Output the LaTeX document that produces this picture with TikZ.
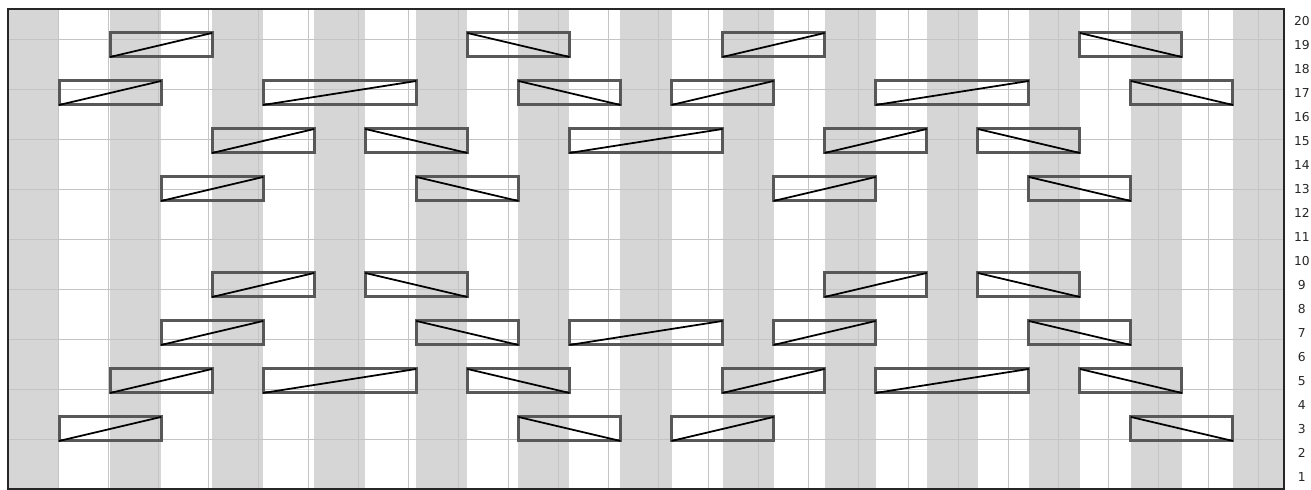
\documentclass[tikz,border=0pt]{standalone}
\usepackage{fontspec}
\setmainfont{DejaVu Sans}
\definecolor{stripe}{RGB}{214,214,214}
\definecolor{gridline}{RGB}{196,196,196}
\definecolor{blockedge}{RGB}{88,88,88}

\begin{document}
\begin{tikzpicture}[x=0.5104cm, y=0.48cm]
    \useasboundingbox (-0.3135,-0.0417) rectangle (51.06,20.375);
    % 1. Dải xám
    \foreach \c in {0,4,...,48} {
        \fill[stripe] (\c,0) rectangle ++(2,20);
    }
    
    % 2. Lưới và khung
    \draw[gridline, line width=0.4pt] (0,0) grid (50,20);
    \draw[line width=0.9pt, black!85] (0,0) rectangle (50,20);
    
    % 3. Số hàng
    \foreach \r in {1,...,20} {
        \node[font=\fontsize{7}{8}\selectfont, text=black!85, inner sep=0pt] (row\r) at (50.7,\r-0.5) {\r};
    }
    
    % 4. Khối chéo lên
    \foreach \r/\a/\b in {19/4/8, 19/28/32, 17/2/6, 17/10/16, 17/26/30, 17/34/40,
        15/8/12, 15/22/28, 15/32/36, 13/6/10, 13/30/34, 9/8/12, 9/32/36,
        7/6/10, 7/22/28, 7/30/34, 5/4/8, 5/10/16, 5/28/32, 5/34/40, 3/2/6, 3/26/30} {
        \draw[blockedge, line width=1.7pt] (\a,\r-1) rectangle (\b,\r);
        \draw[line width=1pt] (\a,\r-1) -- (\b,\r);
    }
    
    % 5. Khối chéo xuống
    \foreach \r/\a/\b in {19/18/22, 19/42/46, 17/20/24, 17/44/48, 15/14/18, 15/38/42,
        13/16/20, 13/40/44, 9/14/18, 9/38/42, 7/16/20, 7/40/44,
        5/18/22, 5/42/46, 3/20/24, 3/44/48} {
        \draw[blockedge, line width=1.7pt] (\a,\r-1) rectangle (\b,\r);
        \draw[line width=1pt] (\a,\r) -- (\b,\r-1);
    }
\end{tikzpicture}
\end{document}
